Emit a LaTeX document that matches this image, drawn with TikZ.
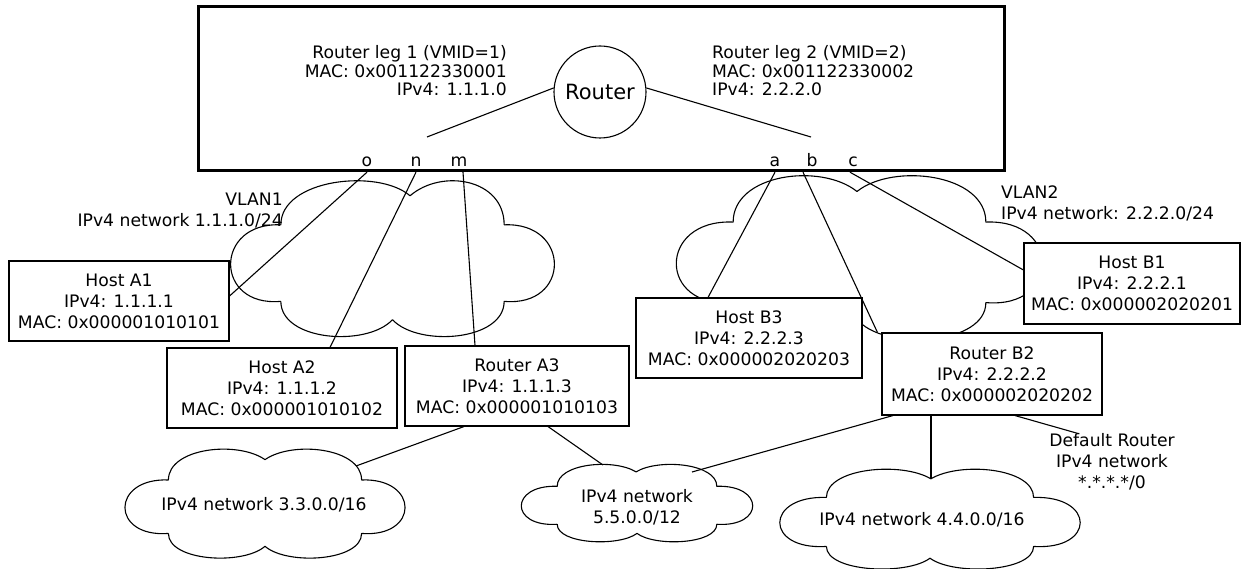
\documentclass[tikz,border=0pt]{standalone}
\usepackage{fontspec}
\setmainfont{DejaVu Sans}
\newcommand\vcloud[5]{%
  \begin{scope}[shift={(#1,#2)},x=#3pt,y=-#4pt]
    \draw[wire,line join=round] (0.15,0.78)
      .. controls (-0.06,0.82) and (-0.06,0.26) .. (0.15,0.28)
      .. controls (0.15,-0.02) and (#5-0.1,-0.09) .. (#5,0.09)
      .. controls (#5+0.1,-0.09) and (0.85,-0.02) .. (0.85,0.28)
      .. controls (1.06,0.26) and (1.06,0.82) .. (0.85,0.78)
      .. controls (0.85,1.04) and (0.58,1.08) .. (0.5,0.9)
      .. controls (0.42,1.08) and (0.15,1.04) .. (0.15,0.78);
  \end{scope}}
\begin{document}
\begin{tikzpicture}[x=1pt,y=-1pt,font=\fontsize{17.2}{21}\selectfont]
\tikzset{
  wire/.style={line width=1.1pt},
  box/.style={draw,fill=white,line width=1.1pt,align=center,inner sep=0pt},
  lbl/.style={align=center,inner sep=0pt},
  letter/.style={inner sep=0pt,minimum height=20pt,text height=9pt,text depth=0pt},
  legtext/.style={inner sep=0pt,font=\fontsize{17.2}{18.5}\selectfont}
}
\useasboundingbox (0,0) rectangle (1248,569);

% clouds
\vcloud{233}{182}{319}{153}{0.555}
\vcloud{679}{177}{361}{161}{0.493}
\vcloud{127}{450}{276}{107}{0.5}
\vcloud{523}{465}{228}{76}{0.496}
\vcloud{782}{470}{296}{98}{0.503}

% cloud labels
\node[lbl] (t33) at (264,505) {IPv4 network 3.3.0.0/16};
\node[lbl] (t55) at (637,507) {IPv4 network\\5.5.0.0/12};
\node[lbl] (t44) at (922,520) {IPv4 network 4.4.0.0/16};
\node[inner sep=0pt,align=right,anchor=east] (v1) at (283,211) {VLAN1\\IPv4 network 1.1.1.0/24};
\node[inner sep=0pt,align=left,anchor=west] (v2) at (1001,203) {VLAN2\\IPv4 network: 2.2.2.0/24};
\node[lbl] (DR) at (1112,462) {Default Router\\IPv4 network\\*.*.*.*/0};

% boxes
\node[box,minimum width=220pt,minimum height=80pt] (A1) at (119,301) {Host A1\\IPv4: 1.1.1.1\\MAC: 0x000001010101};
\node[box,minimum width=230pt,minimum height=80pt] (A2) at (282,388) {Host A2\\IPv4: 1.1.1.2\\MAC: 0x000001010102};
\node[box,minimum width=224pt,minimum height=80pt] (A3) at (517,386) {Router A3\\IPv4: 1.1.1.3\\MAC: 0x000001010103};
\node[box,minimum width=226pt,minimum height=80pt] (B3) at (749,338) {Host B3\\IPv4: 2.2.2.3\\MAC: 0x000002020203};
\node[box,minimum width=220pt,minimum height=82pt] (B2) at (992,374) {Router B2\\IPv4: 2.2.2.2\\MAC: 0x000002020202};
\node[box,minimum width=216pt,minimum height=81pt] (B1) at (1132,283.5) {Host B1\\IPv4: 2.2.2.1\\MAC: 0x000002020201};

% top box
\node[draw,line width=3pt,minimum width=806pt,minimum height=164pt,inner sep=0pt] (top) at (601,89) {};
\node[draw,circle,wire,minimum size=92pt,inner sep=0pt,font=\fontsize{21}{25}\selectfont] (router) at (600,92) {Router};
\node[legtext,align=right,anchor=east] (leg1) at (507,71) {Router leg 1 (VMID=1)\\MAC: 0x001122330001\\IPv4: 1.1.1.0};
\node[legtext,align=left,anchor=west] (leg2) at (712,71) {Router leg 2 (VMID=2)\\MAC: 0x001122330002\\IPv4: 2.2.2.0};
\coordinate (j1) at (427,137);
\coordinate (j2) at (811,137);
\draw[wire] (router.175) -- (j1);
\draw[wire] (router.5) -- (j2);

\node[letter] (o) at (367,162) {o};
\node[letter] (n) at (416,162) {n};
\node[letter] (m) at (459,162) {m};
\node[letter] (a) at (775,162) {a};
\node[letter] (b) at (812,162) {b};
\node[letter] (c) at (853,162) {c};

% VLAN connectors
\draw[wire] (o.south) -- ([yshift=5pt]A1.east);
\draw[wire] (n.south) -- ([xshift=48pt]A2.north);
\draw[wire] ([xshift=4pt]m.south) -- ([xshift=-42pt]A3.north);
\draw[wire] (a.south) -- ([xshift=-41pt]B3.north);
\draw[wire] ([xshift=-9pt]b.south) -- ([xshift=-4pt]B2.north west);
\draw[wire] ([xshift=-3pt]c.south) -- ([yshift=13.5pt]B1.west);

% router connectors to networks
\coordinate (k33) at (356,466);
\coordinate (k55a) at (603,465);
\coordinate (k55b) at (692,472);
\coordinate (k44) at (931,478);
\draw[wire] ([xshift=-53pt]A3.south) -- (k33);
\draw[wire] ([xshift=31pt]A3.south) -- (k55a);
\draw[wire] ([xshift=-99pt]B2.south) -- (k55b);
\draw[wire] ([xshift=-61pt]B2.south) -- (k44);
\draw[wire] ([xshift=23pt]B2.south) -- ([xshift=-34pt]DR.north);
\end{tikzpicture}
\end{document}
